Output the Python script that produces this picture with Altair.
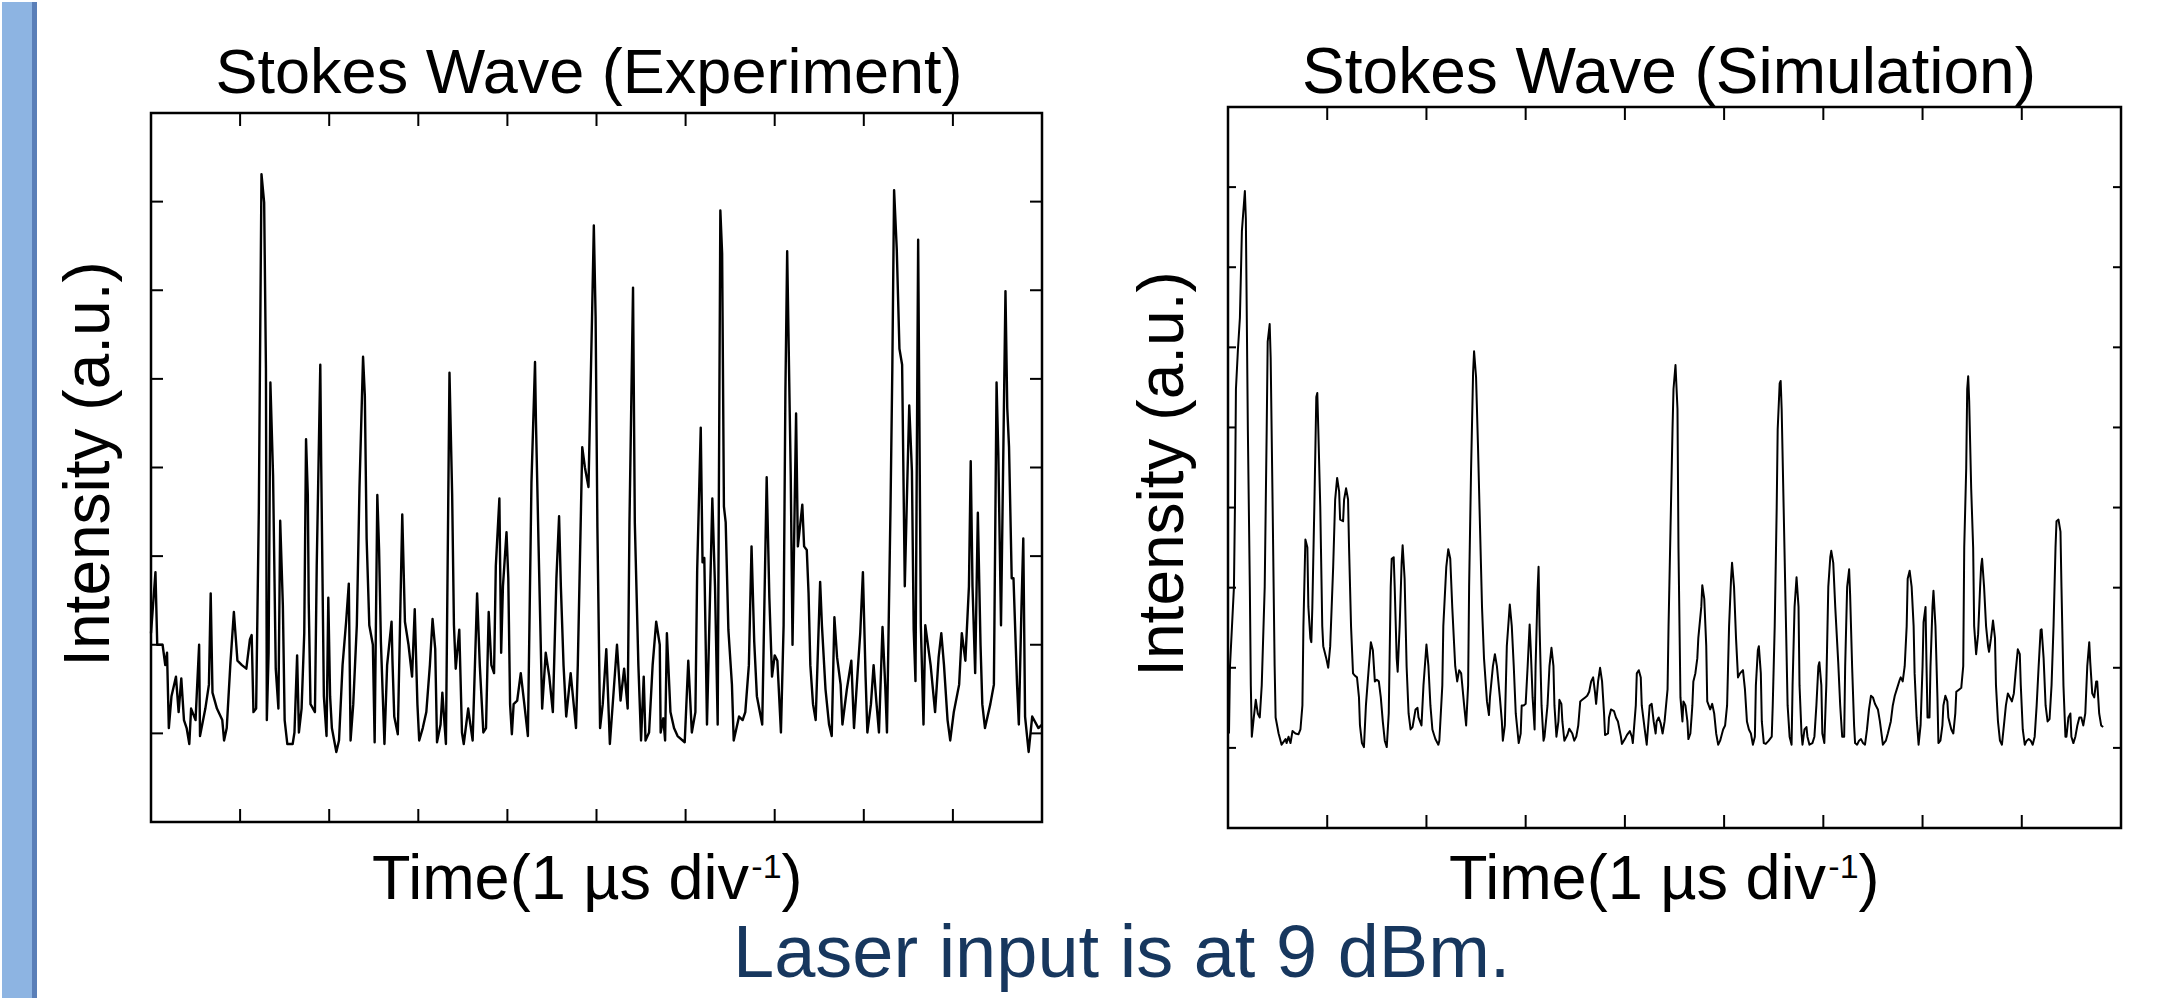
import altair as alt
import pandas as pd

# ---------------- data ----------------
# Experiment trace (time in divisions, intensity in a.u. = y-tick units)
exp_time = [0.00, 0.05, 0.07, 0.13, 0.16, 0.18, 0.20, 0.23, 0.28, 0.31, 0.34, 0.37, 0.40, 0.43, 0.45, 0.50,
            0.54, 0.55, 0.61, 0.65, 0.67, 0.69, 0.74, 0.80, 0.82, 0.85, 0.89, 0.93, 0.97, 1.02, 1.07, 1.11,
            1.13, 1.15, 1.18, 1.21, 1.24, 1.27, 1.29, 1.30, 1.32, 1.34, 1.37, 1.40, 1.43, 1.45, 1.48, 1.50,
            1.53, 1.59, 1.61, 1.64, 1.66, 1.69, 1.72, 1.74, 1.76, 1.77, 1.79, 1.84, 1.86, 1.90, 1.91, 1.94,
            1.97, 1.99, 2.01, 2.03, 2.08, 2.11, 2.15, 2.19, 2.22, 2.24, 2.27, 2.31, 2.34, 2.38, 2.40, 2.42,
            2.45, 2.49, 2.51, 2.54, 2.56, 2.58, 2.62, 2.65, 2.70, 2.71, 2.73, 2.77, 2.82, 2.85, 2.89, 2.93,
            2.96, 2.99, 3.01, 3.05, 3.09, 3.13, 3.16, 3.19, 3.21, 3.25, 3.27, 3.31, 3.35, 3.38, 3.40, 3.42,
            3.46, 3.49, 3.51, 3.56, 3.59, 3.61, 3.66, 3.69, 3.73, 3.76, 3.79, 3.82, 3.85, 3.87, 3.91, 3.93,
            3.95, 3.99, 4.01, 4.03, 4.05, 4.07, 4.11, 4.15, 4.19, 4.23, 4.27, 4.31, 4.32, 4.35, 4.39, 4.43,
            4.47, 4.51, 4.55, 4.58, 4.60, 4.63, 4.66, 4.71, 4.77, 4.79, 4.84, 4.87, 4.91, 4.95, 4.97, 4.99,
            5.01, 5.04, 5.07, 5.11, 5.15, 5.23, 5.27, 5.31, 5.35, 5.37, 5.41, 5.43, 5.47, 5.50, 5.53, 5.55,
            5.59, 5.63, 5.67, 5.71, 5.72, 5.75, 5.77, 5.79, 5.83, 5.87, 5.91, 5.99, 6.03, 6.07, 6.11, 6.13,
            6.17, 6.19, 6.21, 6.24, 6.30, 6.33, 6.36, 6.39, 6.41, 6.43, 6.45, 6.48, 6.52, 6.54, 6.60, 6.64,
            6.67, 6.71, 6.74, 6.77, 6.80, 6.86, 6.91, 6.94, 6.97, 7.00, 7.03, 7.07, 7.10, 7.12, 7.14, 7.18,
            7.20, 7.24, 7.26, 7.31, 7.33, 7.36, 7.38, 7.40, 7.43, 7.46, 7.51, 7.53, 7.57, 7.61, 7.64, 7.67,
            7.70, 7.74, 7.76, 7.81, 7.86, 7.89, 7.93, 7.96, 7.99, 8.02, 8.04, 8.08, 8.11, 8.14, 8.17, 8.21,
            8.24, 8.26, 8.30, 8.32, 8.34, 8.37, 8.40, 8.43, 8.46, 8.49, 8.51, 8.54, 8.56, 8.58, 8.61, 8.64,
            8.67, 8.69, 8.75, 8.80, 8.84, 8.87, 8.90, 8.94, 8.97, 9.01, 9.07, 9.10, 9.14, 9.18, 9.20, 9.22,
            9.25, 9.28, 9.31, 9.33, 9.36, 9.42, 9.46, 9.49, 9.51, 9.54, 9.59, 9.61, 9.63, 9.66, 9.68, 9.72,
            9.74, 9.77, 9.79, 9.81, 9.85, 9.89, 9.96, 10.00]
exp_intensity = [2.13, 2.82, 2.00, 2.00, 1.77, 1.91, 1.06, 1.42, 1.64, 1.24, 1.62, 1.15, 1.06, 0.88, 1.28, 1.15,
                 2.00, 0.97, 1.28, 1.55, 2.58, 1.46, 1.28, 1.15, 0.92, 1.06, 1.77, 2.37, 1.82, 1.77, 1.73, 2.06,
                 2.11, 1.24, 1.28, 3.51, 7.31, 6.99, 5.12, 1.15, 1.91, 4.96, 3.91, 1.73, 1.28, 3.40, 2.44, 1.15,
                 0.88, 0.88, 1.01, 1.88, 1.01, 1.28, 2.13, 4.32, 3.69, 2.49, 1.33, 1.24, 2.89, 5.16, 4.05, 1.42,
                 0.97, 2.53, 1.42, 1.06, 0.79, 0.92, 1.77, 2.26, 2.69, 0.92, 1.33, 2.22, 3.78, 5.25, 4.81, 3.20,
                 2.22, 2.00, 0.90, 3.69, 3.07, 2.04, 0.88, 1.77, 2.26, 1.82, 1.19, 0.99, 3.47, 2.26, 2.00, 1.64,
                 2.40, 1.33, 0.92, 1.06, 1.24, 1.77, 2.29, 1.95, 0.90, 1.10, 1.46, 0.88, 5.07, 3.69, 2.22, 1.73,
                 2.17, 1.01, 0.88, 1.28, 1.06, 0.92, 2.58, 1.77, 1.01, 1.06, 2.37, 1.77, 1.68, 2.89, 3.65, 1.91,
                 2.66, 3.27, 2.75, 1.33, 0.99, 1.33, 1.37, 1.68, 1.33, 0.97, 3.83, 5.19, 4.54, 3.11, 1.28, 1.91,
                 1.64, 1.24, 2.75, 3.45, 2.66, 1.77, 1.19, 1.68, 1.06, 1.77, 4.23, 4.00, 3.78, 5.70, 6.73, 5.70,
                 3.33, 1.06, 1.33, 1.95, 0.88, 2.00, 1.37, 1.73, 1.28, 3.38, 6.03, 3.38, 1.77, 0.92, 1.64, 0.92,
                 1.01, 1.77, 2.26, 2.00, 1.01, 1.17, 0.92, 2.13, 1.24, 1.06, 0.97, 0.90, 1.82, 1.01, 1.24, 2.84,
                 4.45, 2.93, 2.98, 1.10, 3.65, 2.66, 1.10, 6.90, 6.41, 3.56, 3.38, 2.17, 1.55, 0.92, 1.19, 1.15,
                 1.24, 1.77, 3.11, 2.04, 1.42, 1.10, 3.89, 2.53, 1.64, 1.88, 1.82, 1.01, 2.22, 4.85, 6.44, 3.91,
                 2.00, 4.61, 3.11, 3.58, 3.11, 3.07, 2.58, 1.77, 1.33, 1.15, 2.71, 2.22, 1.50, 1.10, 0.97, 2.31,
                 1.86, 1.55, 1.10, 1.50, 1.82, 1.06, 1.68, 2.13, 2.82, 1.64, 1.01, 1.33, 1.77, 1.37, 1.01, 2.20,
                 1.55, 1.01, 3.56, 5.10, 7.13, 6.46, 5.34, 5.16, 2.66, 3.91, 4.70, 3.96, 2.17, 1.59, 6.57, 2.22,
                 1.10, 2.22, 1.77, 1.24, 1.86, 2.13, 1.77, 1.15, 0.92, 1.24, 1.55, 2.13, 1.82, 2.66, 4.07, 2.66,
                 1.68, 3.49, 2.00, 1.33, 1.06, 1.33, 1.55, 4.96, 4.14, 2.22, 5.99, 4.67, 4.23, 2.75, 2.75, 1.55,
                 1.10, 2.44, 3.20, 1.19, 0.79, 1.19, 1.06, 1.10]

# Simulation trace
sim_time = [0.01, 0.02, 0.06, 0.07, 0.08, 0.10, 0.12, 0.14, 0.17, 0.18, 0.20, 0.22, 0.23, 0.24, 0.26, 0.28,
            0.30, 0.32, 0.34, 0.37, 0.39, 0.40, 0.42, 0.43, 0.45, 0.47, 0.48, 0.51, 0.54, 0.58, 0.59, 0.61,
            0.63, 0.65, 0.68, 0.71, 0.73, 0.75, 0.76, 0.78, 0.80, 0.81, 0.83, 0.84, 0.85, 0.87, 0.89, 0.90,
            0.91, 0.93, 0.95, 0.96, 0.99, 1.01, 1.03, 1.06, 1.08, 1.10, 1.12, 1.13, 1.16, 1.17, 1.19, 1.21,
            1.22, 1.24, 1.26, 1.28, 1.30, 1.32, 1.33, 1.35, 1.37, 1.39, 1.42, 1.44, 1.46, 1.48, 1.50, 1.52,
            1.54, 1.56, 1.58, 1.60, 1.62, 1.64, 1.65, 1.67, 1.68, 1.70, 1.71, 1.73, 1.75, 1.76, 1.78, 1.80,
            1.82, 1.84, 1.86, 1.89, 1.91, 1.92, 1.95, 1.97, 2.00, 2.02, 2.04, 2.06, 2.09, 2.12, 2.13, 2.16,
            2.17, 2.20, 2.22, 2.24, 2.26, 2.29, 2.31, 2.33, 2.35, 2.38, 2.40, 2.42, 2.43, 2.45, 2.47, 2.48,
            2.50, 2.52, 2.54, 2.56, 2.58, 2.61, 2.63, 2.64, 2.67, 2.69, 2.71, 2.74, 2.76, 2.77, 2.79, 2.81,
            2.84, 2.86, 2.88, 2.90, 2.93, 2.95, 2.96, 2.98, 3.00, 3.02, 3.04, 3.05, 3.07, 3.09, 3.10, 3.12,
            3.13, 3.14, 3.16, 3.18, 3.19, 3.22, 3.24, 3.26, 3.28, 3.29, 3.31, 3.33, 3.34, 3.36, 3.37, 3.39,
            3.42, 3.44, 3.47, 3.49, 3.51, 3.53, 3.55, 3.57, 3.60, 3.62, 3.64, 3.66, 3.68, 3.70, 3.71, 3.73,
            3.75, 3.77, 3.79, 3.80, 3.83, 3.84, 3.86, 3.89, 3.91, 3.93, 3.96, 3.97, 4.00, 4.02, 4.05, 4.07,
            4.08, 4.11, 4.12, 4.14, 4.16, 4.17, 4.20, 4.22, 4.25, 4.27, 4.29, 4.31, 4.32, 4.34, 4.36, 4.38,
            4.40, 4.43, 4.44, 4.46, 4.48, 4.49, 4.51, 4.53, 4.54, 4.56, 4.58, 4.59, 4.61, 4.63, 4.64, 4.66,
            4.68, 4.69, 4.71, 4.73, 4.74, 4.77, 4.78, 4.80, 4.82, 4.83, 4.86, 4.88, 4.90, 4.92, 4.94, 4.96,
            4.99, 5.01, 5.03, 5.05, 5.07, 5.08, 5.10, 5.12, 5.14, 5.16, 5.19, 5.21, 5.23, 5.25, 5.27, 5.29,
            5.31, 5.32, 5.34, 5.35, 5.37, 5.38, 5.40, 5.42, 5.45, 5.48, 5.49, 5.51, 5.53, 5.54, 5.56, 5.57,
            5.58, 5.60, 5.62, 5.64, 5.66, 5.68, 5.69, 5.71, 5.73, 5.75, 5.76, 5.78, 5.79, 5.81, 5.83, 5.84,
            5.86, 5.89, 5.91, 5.93, 5.95, 5.96, 5.98, 5.99, 6.01, 6.03, 6.05, 6.07, 6.08, 6.10, 6.12, 6.15,
            6.17, 6.19, 6.21, 6.22, 6.24, 6.26, 6.27, 6.29, 6.31, 6.32, 6.34, 6.36, 6.38, 6.40, 6.42, 6.44,
            6.46, 6.48, 6.50, 6.52, 6.55, 6.57, 6.59, 6.60, 6.63, 6.65, 6.68, 6.70, 6.72, 6.74, 6.77, 6.78,
            6.80, 6.82, 6.84, 6.85, 6.87, 6.89, 6.91, 6.92, 6.94, 6.96, 6.98, 7.00, 7.01, 7.03, 7.04, 7.05,
            7.07, 7.08, 7.10, 7.11, 7.13, 7.15, 7.16, 7.18, 7.20, 7.21, 7.23, 7.25, 7.26, 7.29, 7.31, 7.33,
            7.34, 7.37, 7.39, 7.41, 7.42, 7.44, 7.45, 7.46, 7.47, 7.49, 7.51, 7.52, 7.54, 7.56, 7.58, 7.59,
            7.60, 7.62, 7.64, 7.66, 7.67, 7.69, 7.71, 7.73, 7.74, 7.76, 7.78, 7.80, 7.82, 7.84, 7.86, 7.88,
            7.90, 7.92, 7.94, 7.96, 7.98, 7.99, 8.01, 8.03, 8.05, 8.07, 8.09, 8.11, 8.13, 8.15, 8.17, 8.19,
            8.20, 8.22, 8.24, 8.26, 8.28, 8.30, 8.32, 8.34, 8.35, 8.37, 8.39, 8.40, 8.42, 8.44, 8.45, 8.47,
            8.49, 8.50, 8.52, 8.54, 8.56, 8.58, 8.60, 8.62, 8.64, 8.66, 8.68, 8.69, 8.71, 8.73, 8.75, 8.76,
            8.78, 8.80, 8.82]
sim_intensity = [1.18, 2.02, 3.01, 4.00, 5.48, 5.97, 6.37, 7.45, 7.95, 7.60, 4.98, 3.01, 1.78, 1.14, 1.38, 1.60,
                 1.43, 1.38, 1.78, 3.01, 4.98, 6.07, 6.29, 5.87, 4.00, 2.02, 1.38, 1.18, 1.04, 1.11, 1.06, 1.14,
                 1.06, 1.21, 1.18, 1.17, 1.23, 1.53, 2.52, 3.60, 3.50, 2.76, 2.37, 2.32, 2.76, 4.00, 5.38, 5.43,
                 4.98, 4.00, 2.52, 2.27, 2.12, 2.00, 2.27, 3.26, 4.10, 4.37, 4.20, 3.85, 3.83, 4.10, 4.24, 4.10,
                 3.50, 2.52, 1.93, 1.90, 1.88, 1.63, 1.28, 1.06, 1.01, 1.53, 2.02, 2.32, 2.22, 1.83, 1.85, 1.83,
                 1.63, 1.33, 1.09, 1.01, 1.43, 3.01, 3.36, 3.38, 3.01, 2.12, 1.95, 2.52, 3.31, 3.53, 3.11, 2.02,
                 1.43, 1.23, 1.26, 1.48, 1.50, 1.38, 1.28, 1.78, 2.29, 2.02, 1.53, 1.23, 1.11, 1.04, 1.09, 1.78,
                 2.52, 3.26, 3.48, 3.36, 2.76, 2.02, 1.83, 1.97, 1.93, 1.53, 1.28, 1.78, 3.01, 4.49, 5.68, 5.95,
                 5.63, 4.74, 3.75, 2.76, 2.12, 1.58, 1.41, 1.63, 2.02, 2.17, 2.02, 1.63, 1.33, 1.09, 1.28, 2.27,
                 2.79, 2.52, 2.02, 1.43, 1.06, 1.18, 1.53, 1.53, 1.55, 2.02, 2.54, 2.27, 1.63, 1.23, 2.02, 2.96,
                 3.26, 2.52, 1.53, 1.09, 1.14, 1.53, 2.02, 2.25, 2.02, 1.53, 1.14, 1.33, 1.60, 1.55, 1.33, 1.09,
                 1.16, 1.24, 1.18, 1.09, 1.14, 1.28, 1.58, 1.60, 1.63, 1.65, 1.70, 1.83, 1.88, 1.68, 1.55, 1.83,
                 2.00, 1.83, 1.43, 1.16, 1.18, 1.38, 1.48, 1.46, 1.38, 1.33, 1.14, 1.05, 1.11, 1.16, 1.21, 1.14,
                 1.06, 1.53, 1.93, 1.97, 1.88, 1.53, 1.23, 1.04, 1.53, 1.55, 1.33, 1.18, 1.33, 1.38, 1.31, 1.18,
                 1.33, 1.73, 2.52, 3.75, 4.98, 5.48, 5.78, 5.23, 3.50, 1.63, 1.33, 1.58, 1.53, 1.33, 1.11, 1.18,
                 1.53, 1.83, 1.93, 2.12, 2.37, 2.76, 3.03, 2.86, 2.27, 1.58, 1.48, 1.55, 1.43, 1.18, 1.04, 1.09,
                 1.23, 1.28, 1.53, 2.52, 3.11, 3.31, 3.01, 2.37, 1.88, 1.93, 1.97, 1.73, 1.33, 1.23, 1.18, 1.04,
                 1.14, 1.78, 2.22, 2.27, 1.93, 1.33, 1.06, 1.05, 1.09, 1.14, 1.53, 2.52, 4.00, 4.98, 5.55, 5.58,
                 5.23, 4.00, 2.76, 1.53, 1.14, 1.04, 1.78, 2.76, 3.13, 2.76, 1.78, 1.18, 1.04, 1.23, 1.26, 1.14,
                 1.04, 1.06, 1.14, 1.53, 2.02, 2.07, 1.78, 1.18, 1.06, 1.78, 3.01, 3.38, 3.46, 3.31, 2.76, 2.07,
                 1.53, 1.14, 1.14, 2.02, 3.01, 3.23, 2.91, 2.02, 1.28, 1.06, 1.04, 1.09, 1.11, 1.06, 1.04, 1.23,
                 1.48, 1.65, 1.63, 1.55, 1.48, 1.33, 1.14, 1.04, 1.09, 1.18, 1.33, 1.53, 1.65, 1.73, 1.85, 1.88,
                 1.83, 2.02, 2.52, 3.11, 3.21, 3.01, 2.52, 1.93, 1.38, 1.04, 1.28, 2.02, 2.57, 2.76, 2.02, 1.38,
                 1.38, 2.02, 2.76, 2.96, 2.52, 1.63, 1.06, 1.09, 1.28, 1.53, 1.65, 1.58, 1.38, 1.23, 1.18, 1.43,
                 1.70, 1.73, 1.75, 2.02, 3.50, 4.49, 5.48, 5.64, 5.33, 4.24, 3.50, 2.52, 2.17, 2.42, 3.01, 3.26,
                 3.36, 3.01, 2.52, 2.27, 2.20, 2.37, 2.59, 2.37, 1.78, 1.33, 1.09, 1.04, 1.28, 1.53, 1.68, 1.63,
                 1.58, 1.68, 1.97, 2.23, 2.17, 1.78, 1.23, 1.04, 1.09, 1.11, 1.09, 1.04, 1.14, 1.53, 2.02, 2.47,
                 2.48, 2.12, 1.53, 1.33, 1.36, 1.78, 2.52, 3.50, 3.83, 3.85, 3.70, 3.01, 1.78, 1.14, 1.14, 1.38,
                 1.43, 1.14, 1.06, 1.14, 1.28, 1.38, 1.38, 1.28, 1.43, 2.02, 2.32, 2.07, 1.68, 1.63, 1.83, 1.83,
                 1.43, 1.28, 1.26]

exp_xticks = [1, 2, 3, 4, 5, 6, 7, 8, 9]
exp_yticks = [1, 2, 3, 4, 5, 6, 7]
sim_xticks = [1, 2, 3, 4, 5, 6, 7, 8]
sim_yticks = [1, 2, 3, 4, 5, 6, 7, 8]

title_exp = "Stokes Wave (Experiment)"
title_sim = "Stokes Wave (Simulation)"
x_title_main = "Time(1 \u00b5s div"
x_title_sup = "-1"
x_title_end = ")"
y_title = "Intensity (a.u.)"
caption = "Laser input is at 9 dBm."

FONT = "Liberation Sans"
LW, LH = 891, 709
RW, RH = 893, 721


def label(text, x, y, size=63, color="black", angle=0, align="center"):
    kw = dict(font=FONT, fontSize=size, color=color, align=align, baseline="alphabetic")
    if angle:
        kw["angle"] = angle
    return alt.Chart(pd.DataFrame({"label": [text]})).mark_text(**kw).encode(
        x=alt.value(x), y=alt.value(y), text="label:N")


def x_axis_title(x0, y):
    # "Time(1 µs div" + superscript "-1" + ")" ; Arial-metric widths at 63 px / 34 px
    main_w = 6.021 * 63
    sup_w = 0.889 * 34
    return [
        label(x_title_main, x0, y, align="left"),
        label(x_title_sup, x0 + main_w, y - 21, size=34, align="left"),
        label(x_title_end, x0 + main_w + sup_w, y, align="left"),
    ]


def panel(times, values, xt, yt, xdom, ydom, w, h, title, title_pos, xt_pos, yt_pos,
          xtick_len, ytick_len, title_size, lw):
    df = pd.DataFrame({"t": times, "v": values, "i": list(range(len(times)))})
    xs = alt.Scale(domain=xdom, nice=False, zero=False)
    ys = alt.Scale(domain=ydom, nice=False, zero=False)
    line = alt.Chart(df).mark_line(color="black", strokeWidth=lw, strokeJoin="round").encode(
        x=alt.X("t:Q", scale=xs, axis=None),
        y=alt.Y("v:Q", scale=ys, axis=None),
        order="i:Q",
    )
    xdf = pd.DataFrame({"t": xt})
    ydf = pd.DataFrame({"v": yt})
    tick = dict(color="black", strokeWidth=2)
    top = alt.Chart(xdf).mark_rule(**tick).encode(
        x=alt.X("t:Q", scale=xs, axis=None), y=alt.value(0), y2=alt.value(xtick_len))
    bottom = alt.Chart(xdf).mark_rule(**tick).encode(
        x=alt.X("t:Q", scale=xs, axis=None), y=alt.value(h - xtick_len), y2=alt.value(h))
    left = alt.Chart(ydf).mark_rule(**tick).encode(
        y=alt.Y("v:Q", scale=ys, axis=None), x=alt.value(0), x2=alt.value(ytick_len))
    right = alt.Chart(ydf).mark_rule(**tick).encode(
        y=alt.Y("v:Q", scale=ys, axis=None), x=alt.value(w - ytick_len), x2=alt.value(w))
    texts = [
        label(title, title_pos[0], title_pos[1], size=title_size),
        label(y_title, yt_pos[0], yt_pos[1], size=64, angle=270),
    ] + x_axis_title(xt_pos[0], xt_pos[1])
    return [line, top, bottom, left, right] + texts


l_layers = panel(exp_time, exp_intensity, exp_xticks, exp_yticks, [0, 10], [0, 8], LW, LH,
                 title_exp, (438, -20), (221, 786), (-42, 351), 13, 12, 63, 2.4)
r_layers = panel(sim_time, sim_intensity, sim_xticks, sim_yticks, [0, 9], [0, 9], RW, RH,
                 title_sim, (441, -14), (221, 792), (-45, 367), 13, 8, 64, 2)

# decoration: slide side bar and caption (placed relative to the left panel)
deco = pd.DataFrame({"k": [0]})
bar = alt.Chart(deco).mark_rect(color="#8DB4E2").encode(
    x=alt.value(-149), x2=alt.value(-119), y=alt.value(-111), y2=alt.value(887))
bar_edge = alt.Chart(deco).mark_rect(color="#5A7FB8").encode(
    x=alt.value(-119), x2=alt.value(-114), y=alt.value(-111), y2=alt.value(887))
cap = label(caption, 582, 864, size=74, color="#17375E", align="left")

left_chart = alt.layer(*l_layers, bar, bar_edge, cap).properties(width=LW, height=LH)
right_chart = alt.layer(*r_layers).properties(width=RW, height=RH)

chart = alt.hconcat(left_chart, right_chart, spacing=186, bounds="flush", center=True).properties(
    padding=0, background="white"
).configure_view(stroke="black", strokeWidth=2.5)

chart.save("out.html", embed_options={"renderer": "svg", "actions": False})
